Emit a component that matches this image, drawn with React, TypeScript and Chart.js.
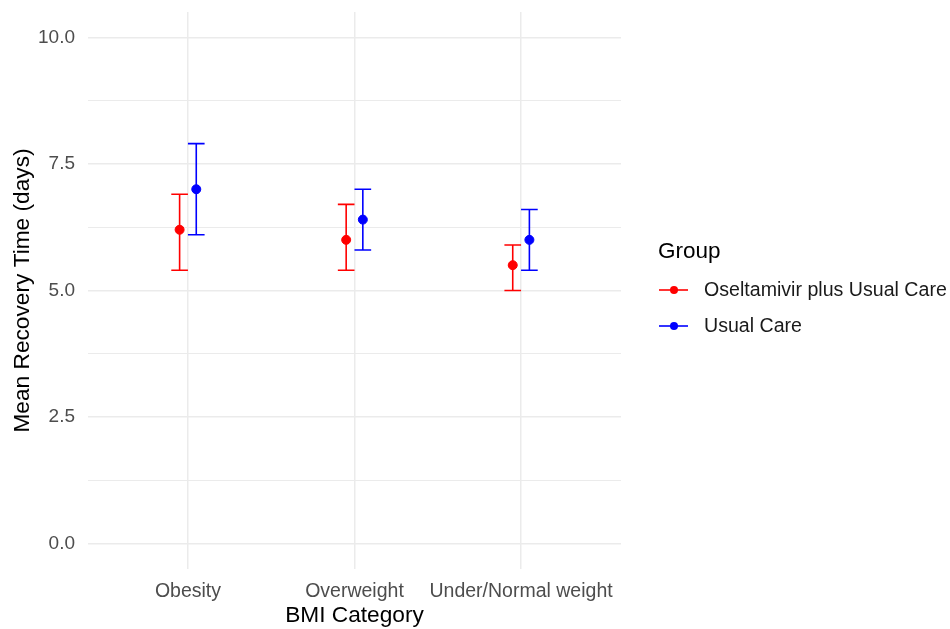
import React, { useEffect, useRef } from "react";
import { Chart, registerables } from "chart.js";

Chart.register(...registerables);

const categories = ["Obesity", "Overweight", "Under/Normal weight"];
const groupNames = ["Oseltamivir plus Usual Care", "Usual Care"];
const groupColors = ["#ff0000", "#0000ff"];

const oseltamivirMean = [6.2, 6.0, 5.5];
const oseltamivirLower = [5.4, 5.4, 5.0];
const oseltamivirUpper = [6.9, 6.7, 5.9];

const usualMean = [7.0, 6.4, 6.0];
const usualLower = [6.1, 5.8, 5.4];
const usualUpper = [7.9, 7.0, 6.6];

const yTickValues = [0, 1.25, 2.5, 3.75, 5, 6.25, 7.5, 8.75, 10];
const yMajorTicks = [0, 2.5, 5, 7.5, 10];

const FONT = "'Liberation Sans', Arial, sans-serif";
const DODGE = 0.05;
const CAP = 0.05;

export default function App() {
  const ref = useRef<HTMLCanvasElement | null>(null);

  useEffect(() => {
    if (!ref.current) return;
    const lows = [oseltamivirLower, usualLower];
    const highs = [oseltamivirUpper, usualUpper];
    const means = [oseltamivirMean, usualMean];
    const offsets = [-DODGE, DODGE];

    const errorBars = {
      id: "errorBars",
      beforeDatasetsDraw(chart: any) {
        const { ctx, scales } = chart;
        const xs = scales.x;
        const ys = scales.y;
        ctx.save();
        ctx.lineWidth = 1.6;
        for (let g = 0; g < 2; g++) {
          ctx.strokeStyle = groupColors[g];
          for (let i = 0; i < categories.length; i++) {
            const xv = i + 1 + offsets[g];
            const x = xs.getPixelForValue(xv);
            const xl = xs.getPixelForValue(xv - CAP);
            const xr = xs.getPixelForValue(xv + CAP);
            const yl = ys.getPixelForValue(lows[g][i]);
            const yh = ys.getPixelForValue(highs[g][i]);
            ctx.beginPath();
            ctx.moveTo(x, yl);
            ctx.lineTo(x, yh);
            ctx.moveTo(xl, yl);
            ctx.lineTo(xr, yl);
            ctx.moveTo(xl, yh);
            ctx.lineTo(xr, yh);
            ctx.stroke();
          }
        }
        ctx.restore();
      },
    };

    const legendPlugin = {
      id: "customLegend",
      afterDraw(chart: any) {
        const { ctx } = chart;
        ctx.save();
        ctx.textBaseline = "middle";
        ctx.textAlign = "left";
        ctx.fillStyle = "#000000";
        ctx.font = `22.5px ${FONT}`;
        ctx.fillText("Group", 658, 252);
        const ys = [290, 326];
        for (let g = 0; g < groupNames.length; g++) {
          ctx.strokeStyle = groupColors[g];
          ctx.fillStyle = groupColors[g];
          ctx.lineWidth = 1.6;
          ctx.beginPath();
          ctx.moveTo(659, ys[g]);
          ctx.lineTo(688, ys[g]);
          ctx.stroke();
          ctx.beginPath();
          ctx.arc(674, ys[g], 4, 0, Math.PI * 2);
          ctx.fill();
          ctx.fillStyle = "#1a1a1a";
          ctx.font = `19.6px ${FONT}`;
          ctx.fillText(groupNames[g], 704, ys[g] + 1);
        }
        ctx.restore();
      },
    };

    const datasets = means.map((m, g) => ({
      label: groupNames[g],
      data: m.map((v, i) => ({ x: i + 1 + offsets[g], y: v })),
      backgroundColor: groupColors[g],
      borderColor: groupColors[g],
      pointRadius: 4.5,
      pointHoverRadius: 4.5,
      showLine: false,
    }));

    const chart = new Chart(ref.current, {
      type: "scatter",
      data: { datasets },
      options: {
        animation: false,
        responsive: false,
        maintainAspectRatio: false,
        layout: { padding: { top: 12, right: 329, bottom: 0, left: 0 } },
        plugins: {
          legend: { display: false },
          tooltip: { enabled: false },
        },
        scales: {
          x: {
            type: "linear",
            min: 0.4,
            max: 3.6,
            afterBuildTicks: (scale: any) => {
              scale.ticks = categories.map((_, i) => ({ value: i + 1 }));
            },
            afterFit: (scale: any) => {
              scale.height = 60;
              scale.paddingLeft = 0;
              scale.paddingRight = 0;
            },
            border: { display: false },
            grid: { color: "#ebebeb", lineWidth: 1.5, drawTicks: false },
            ticks: {
              padding: 11,
              color: "#4d4d4d",
              font: { family: FONT, size: 19.5 },
              maxRotation: 0,
              autoSkip: false,
              callback: (v: any) => categories[Math.round(Number(v)) - 1] ?? "",
            },
            title: {
              display: true,
              text: "BMI Category",
              color: "#000000",
              font: { family: FONT, size: 22.7 },
              padding: { top: 0, bottom: 0 },
            },
          },
          y: {
            type: "linear",
            min: -0.5,
            max: 10.5,
            afterBuildTicks: (scale: any) => {
              scale.ticks = yTickValues.map((v) => ({ value: v }));
            },
            afterFit: (scale: any) => {
              scale.width = 88;
              scale.paddingTop = 0;
              scale.paddingBottom = 0;
            },
            border: { display: false },
            grid: {
              drawTicks: false,
              color: "#ebebeb",
              lineWidth: (c: any) =>
                yMajorTicks.includes(c.tick?.value) ? 1.5 : 1,
            },
            ticks: {
              padding: 13,
              color: "#4d4d4d",
              font: { family: FONT, size: 19 },
              autoSkip: false,
              callback: (v: any) =>
                yMajorTicks.includes(Number(v)) ? Number(v).toFixed(1) : "",
            },
            title: {
              display: true,
              text: "Mean Recovery Time (days)",
              color: "#000000",
              font: { family: FONT, size: 22.7 },
              padding: { top: 9, bottom: 0 },
            },
          },
        },
      },
      plugins: [errorBars, legendPlugin],
    });
    return () => chart.destroy();
  }, []);

  return (
    <div style={{ position: "absolute", left: 0, top: 0, width: 950, height: 629, background: "#ffffff" }}>
      <canvas ref={ref} width={950} height={629} style={{ display: "block" }} />
    </div>
  );
}
